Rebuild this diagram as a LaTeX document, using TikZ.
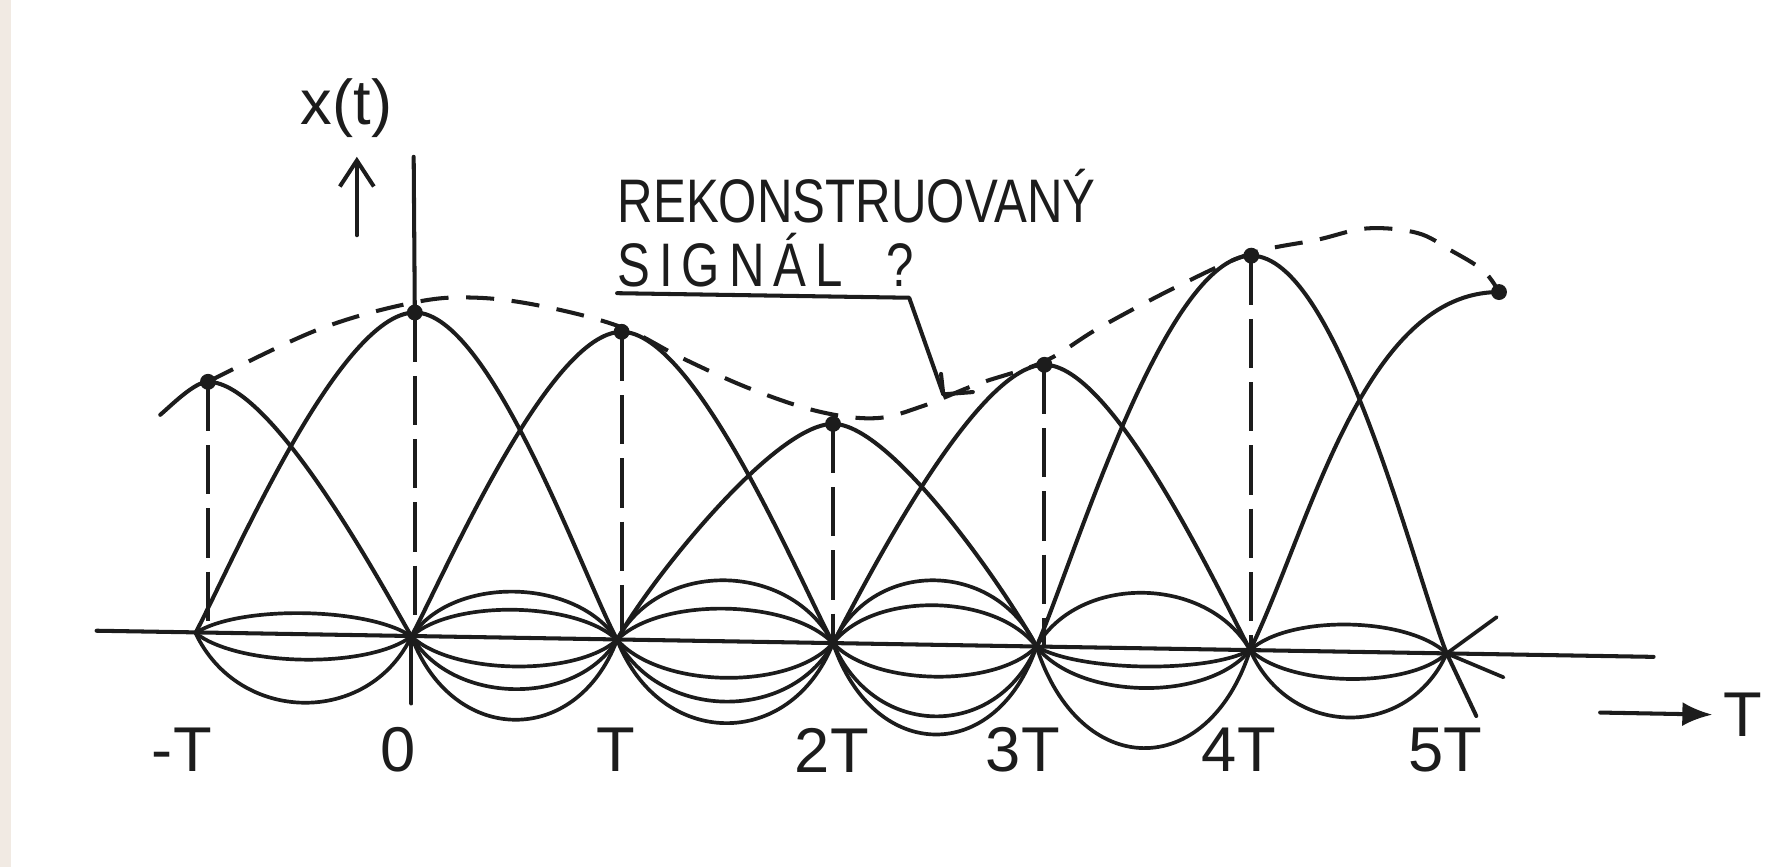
\documentclass[tikz,border=0pt]{standalone}
\usepackage{fontspec}
\setmainfont{Liberation Sans}
\usetikzlibrary{arrows.meta,calc}
\definecolor{inkBlack}{RGB}{28,28,28}
\definecolor{scanEdge}{RGB}{241,234,227}
\tikzset{
  ink/.style={draw=inkBlack, line width=1.15pt, line cap=round, line join=round},
  mainlobe/.style={ink},
  sidelobe/.style={ink, line width=1.05pt},
  stem/.style={ink, dash pattern=on 14pt off 4pt, line cap=butt},
  recon/.style={ink, dash pattern=on 8pt off 5pt, line cap=butt},
  lbl/.style={font=\fontsize{18}{20}\selectfont, text=inkBlack, inner sep=0pt},
  note/.style={font=\fontsize{14}{16}\selectfont, text=inkBlack, inner sep=0pt, anchor=base west},
  sample/.style={fill=inkBlack}
}
\newcommand{\tallcaps}[1]{\scalebox{1}[1.25]{#1}}
\begin{document}
\begin{tikzpicture}[x=0.11365mm, y=0.11365mm]
\useasboundingbox (0,0) rectangle (1568,763);
\fill[scanEdge] (0,0) rectangle (10,763);

% time axis and sampling instants
\coordinate (ax0) at (85,208);
\coordinate (ax1) at (1455,185);
\coordinate (sm) at (172,206);
\coordinate (s0) at (362,203);
\coordinate (s1) at (543,200);
\coordinate (s2) at (733,197);
\coordinate (s3) at (912,194);
\coordinate (s4) at (1100,191);
\coordinate (s5) at (1273,188);
\draw[ink] (ax0) -- (ax1);

% sample values
\coordinate (lm) at (141,398);
\coordinate (pm) at (183,427);
\coordinate (p0) at (365,488);
\coordinate (p1) at (547,471);
\coordinate (p2) at (733,390);
\coordinate (p3) at (919,442);
\coordinate (p4) at (1101,538);
\coordinate (pe) at (1319,506);

% x(t) axis
\coordinate (ytop) at (364,625);
\coordinate (ybot) at (362,144);
\coordinate (ua) at (314,556);
\coordinate (ub) at (314,625);
\node[lbl] (xt) at (305,668) {x(t)};
\draw[ink] (ytop) -- (p0);
\draw[ink] (s0) -- (ybot);
\draw[ink, -{Straight Barb[length=2.6mm, width=3.4mm]}] (ua) -- (ub);

% dashed sample stems
\foreach \k in {m,0,1,2,3,4}
  \draw[stem] (p\k) -- (p\k |- s\k);

% side lobes between the samples
\foreach \a/\b/\h in {m/0/19, m/0/-22, m/0/-60,
    0/1/41, 0/1/25, 0/1/-25, 0/1/-45, 0/1/-72,
    1/2/54, 1/2/29, 1/2/-32, 1/2/-53, 1/2/-72,
    2/3/57, 2/3/35, 2/3/-28, 2/3/-63, 2/3/-79,
    3/4/49, 3/4/-16, 3/4/-35, 3/4/-88,
    4/5/24, 4/5/-24, 4/5/-58}
  \draw[sidelobe] (s\a) .. controls ($(s\a)!0.2!(s\b)+(0,{1.33*\h})$)
    and ($(s\a)!0.8!(s\b)+(0,{1.33*\h})$) .. (s\b);
\draw[sidelobe] (s5) -- ++(50,-21);
\draw[sidelobe] (s5) -- ++(44,32);

% main lobes
\draw[mainlobe] (lm) to[out=40,in=180,looseness=0.6] (pm)
  to[out=0,in=120,looseness=0.5] (s0);
\foreach \a/\p/\b in {m/0/1, 0/1/2, 1/2/3, 2/3/4}
  \draw[mainlobe] (s\a) to[out=62,in=180,looseness=0.5] (p\p)
    to[out=0,in=118,looseness=0.5] (s\b);
\draw[mainlobe] (s3) to[out=66,in=180,looseness=0.5] (p4)
  to[out=0,in=112,looseness=0.5] (s5) -- ++(26,-55);
\draw[mainlobe] (s4) to[out=64,in=180,looseness=0.8] (pe);

% reconstructed signal
\draw[recon] plot[smooth, tension=0.6] coordinates {(pm) (280,473) (365,497)
  (420,501) (480,493) (547,475) (600,448) (660,421) (720,401) (770,395)
  (810,405) (860,425) (919,445) (968,475) (1040,513) (1101,540) (1159,552)
  (1203,562) (1247,558) (1276,543) (1305,525) (pe)};

\foreach \k in {m,0,1,2,3,4,e}
  \fill[sample] (p\k) circle[radius=7];

% note with leader
\node[note] (rek) at (543,567) {\tallcaps{REKONSTRUOVANÝ}};
\node[note] (sig) at (543,511) {\tallcaps{\addfontfeature{LetterSpace=18}SIGNÁL\hspace{0.9em}?}};
\coordinate (ul0) at (543,505);
\coordinate (ul1) at (800,501);
\coordinate (tip) at (830,416);
\draw[ink] (ul0) -- (ul1) -- (tip);
\draw[ink] ($(tip)+(-2,18)$) -- (tip) -- ++(26,2);

% time labels
\foreach \n/\x/\t in {m/160/-T, 0/350/0, 1/542/T, 2/732/2T, 3/900/3T, 4/1090/4T, 5/1272/5T}
  \node[lbl] (lab\n) at (\x,103) {\t};
\node[lbl, anchor=west] (tname) at (1516,134) {T};
\coordinate (tarr) at (1408,136);
\draw[ink, -{Latex[length=3mm, width=2.4mm]}, shorten >=3pt] (tarr) -- (tname.west);
\end{tikzpicture}
\end{document}
